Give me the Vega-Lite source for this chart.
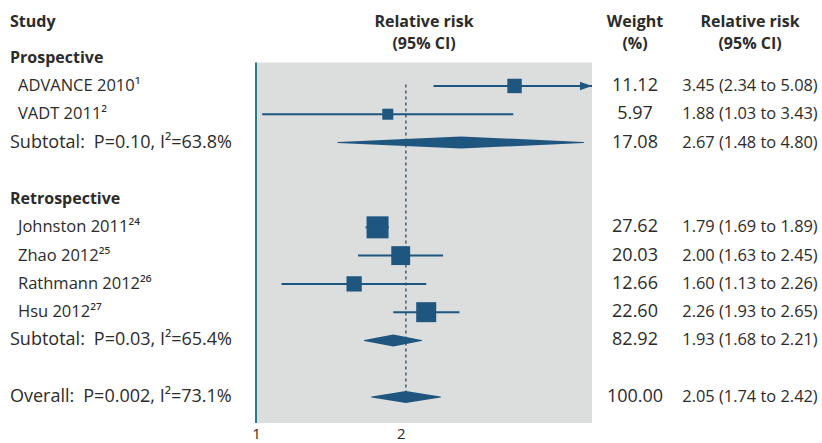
{
  "$schema": "https://vega.github.io/schema/vega-lite/v6.json",
  "padding": 0,
  "spacing": 0,
  "bounds": "flush",
  "background": "white",
  "config": {"font": "Open Sans", "view": {"stroke": null}, "text": {"fontSize": 17, "color": "#2b2b2b"}},
  "datasets": {
    "rows": [
      {"label": "Prospective", "row": 1, "kind": "group"},
      {"label": "ADVANCE 2010¹", "row": 2, "kind": "study", "rr": 3.45, "lo": 2.34, "hi": 5.08, "weight": 11.12, "ci": "3.45 (2.34 to 5.08)"},
      {"label": "VADT 2011²", "row": 3, "kind": "study", "rr": 1.88, "lo": 1.03, "hi": 3.43, "weight": 5.97, "ci": "1.88 (1.03 to 3.43)"},
      {"label": "Subtotal:\u2002P=0.10, I²=63.8%", "row": 4, "kind": "summary", "rr": 2.67, "lo": 1.48, "hi": 4.80, "weight": 17.08, "ci": "2.67 (1.48 to 4.80)"},
      {"label": "Retrospective", "row": 6, "kind": "group"},
      {"label": "Johnston 2011²⁴", "row": 7, "kind": "study", "rr": 1.79, "lo": 1.69, "hi": 1.89, "weight": 27.62, "ci": "1.79 (1.69 to 1.89)"},
      {"label": "Zhao 2012²⁵", "row": 8, "kind": "study", "rr": 2.00, "lo": 1.63, "hi": 2.45, "weight": 20.03, "ci": "2.00 (1.63 to 2.45)"},
      {"label": "Rathmann 2012²⁶", "row": 9, "kind": "study", "rr": 1.60, "lo": 1.13, "hi": 2.26, "weight": 12.66, "ci": "1.60 (1.13 to 2.26)"},
      {"label": "Hsu 2012²⁷", "row": 10, "kind": "study", "rr": 2.26, "lo": 1.93, "hi": 2.65, "weight": 22.60, "ci": "2.26 (1.93 to 2.65)"},
      {"label": "Subtotal:\u2002P=0.03, I²=65.4%", "row": 11, "kind": "summary", "rr": 1.93, "lo": 1.68, "hi": 2.21, "weight": 82.92, "ci": "1.93 (1.68 to 2.21)"},
      {"label": "Overall:\u2002P=0.002, I²=73.1%", "row": 13, "kind": "overall", "rr": 2.05, "lo": 1.74, "hi": 2.42, "weight": 100.00, "ci": "2.05 (1.74 to 2.42)"}
    ]
  },
  "hconcat": [
    {
      "width": 256, "height": 423,
      "data": {"name": "rows"},
      "encoding": {
        "y": {"field": "row", "type": "quantitative", "scale": {"domain": [-1.04, 13.92], "reverse": true, "nice": false, "zero": false}, "axis": null}
      },
      "layer": [
        {
          "transform": [{"filter": "datum.kind === 'overall'"}],
          "mark": {"type": "text", "text": "Study", "fontWeight": "bold", "align": "left", "x": 10, "fontSize": 16},
          "encoding": {"y": {"datum": -0.25, "type": "quantitative"}}
        },
        {
          "transform": [{"filter": "datum.kind === 'group'"}],
          "mark": {"type": "text", "fontWeight": "bold", "align": "left", "x": 10, "fontSize": 16},
          "encoding": {"text": {"field": "label"}}
        },
        {
          "transform": [{"filter": "datum.kind === 'study'"}],
          "mark": {"type": "text", "align": "left", "x": 18, "fontSize": 16.5},
          "encoding": {"text": {"field": "label"}}
        },
        {
          "transform": [{"filter": "datum.kind === 'summary' || datum.kind === 'overall'"}],
          "mark": {"type": "text", "align": "left", "x": 10, "fontSize": 18},
          "encoding": {"text": {"field": "label"}}
        }
      ]
    },
    {
      "width": 336, "height": 423,
      "data": {"name": "rows"},
      "encoding": {
        "y": {"field": "row", "type": "quantitative", "scale": {"domain": [-1.04, 13.92], "reverse": true, "nice": false, "zero": false}, "axis": null}
      },
      "layer": [
        {
          "transform": [{"filter": "datum.kind === 'overall'"}],
          "mark": {"type": "rect", "color": "#dcdddd"},
          "encoding": {
            "x": {"datum": 1, "type": "quantitative", "scale": {"type": "log", "domain": [1, 5], "nice": false}, "axis": {"values": [1, 2], "format": "d", "title": null, "domain": false, "ticks": false, "grid": false, "labelFontSize": 15, "labelColor": "#2b2b2b", "labelPadding": 3, "labelFlush": false, "labelFont": "Open Sans"}},
            "x2": {"datum": 5},
            "y": {"datum": 1.17, "type": "quantitative"},
            "y2": {"datum": 13.92}
          }
        },
        {
          "transform": [{"filter": "datum.kind === 'overall'"}],
          "mark": {"type": "rule", "color": "#2a7a86", "strokeWidth": 2},
          "encoding": {
            "x": {"datum": 1, "type": "quantitative"},
            "y": {"datum": 1.17, "type": "quantitative"},
            "y2": {"datum": 13.92}
          }
        },
        {
          "transform": [{"filter": "datum.kind === 'overall'"}],
          "mark": {"type": "rule", "color": "#3d5c78", "strokeWidth": 1.5, "strokeDash": [3, 3]},
          "encoding": {
            "x": {"field": "rr", "type": "quantitative"},
            "y": {"datum": 1.95, "type": "quantitative"},
            "y2": {"datum": 12.8}
          }
        },
        {
          "transform": [{"filter": "datum.kind === 'study'"}],
          "mark": {"type": "rule", "color": "#1f5680", "strokeWidth": 2, "clip": true},
          "encoding": {
            "x": {"field": "lo", "type": "quantitative"},
            "x2": {"field": "hi"}
          }
        },
        {
          "transform": [{"filter": "datum.kind === 'study' && datum.hi > 5"}],
          "mark": {"type": "point", "shape": "M0,0L-2,-0.7L-2,0.7Z", "filled": true, "opacity": 1, "color": "#1f5680", "size": 144},
          "encoding": {
            "x": {"datum": 5, "type": "quantitative"}
          }
        },
        {
          "transform": [{"filter": "datum.kind === 'study'"}],
          "mark": {"type": "point", "shape": "square", "filled": true, "opacity": 1, "color": "#1f5680"},
          "encoding": {
            "x": {"field": "rr", "type": "quantitative"},
            "size": {"field": "weight", "type": "quantitative", "scale": {"domain": [5.97, 27.62], "range": [121, 484], "zero": false}, "legend": null}
          }
        },
        {
          "transform": [
            {"filter": "datum.kind === 'summary' || datum.kind === 'overall'"},
            {"fold": ["lo", "rr", "hi"], "as": ["part", "val"]}
          ],
          "mark": {"type": "trail", "color": "#1f5680"},
          "encoding": {
            "x": {"field": "val", "type": "quantitative"},
            "detail": {"field": "row"},
            "size": {"condition": {"test": "datum.part === 'rr'", "value": 12}, "value": 0}
          }
        },
        {
          "transform": [{"filter": "datum.kind === 'overall'"}],
          "mark": {"type": "text", "text": ["Relative risk", "(95% CI)"], "fontWeight": "bold", "lineHeight": 22, "fontSize": 16},
          "encoding": {"y": {"datum": -0.25, "type": "quantitative"}}
        }
      ]
    },
    {
      "width": 86, "height": 423,
      "data": {"name": "rows"},
      "encoding": {
        "y": {"field": "row", "type": "quantitative", "scale": {"domain": [-1.04, 13.92], "reverse": true, "nice": false, "zero": false}, "axis": null}
      },
      "layer": [
        {
          "transform": [{"filter": "datum.kind === 'overall'"}],
          "mark": {"type": "text", "text": ["Weight", "(%)"], "fontWeight": "bold", "lineHeight": 22, "fontSize": 16},
          "encoding": {"y": {"datum": -0.25, "type": "quantitative"}}
        },
        {
          "transform": [{"filter": "datum.kind !== 'group'"}],
          "mark": {"type": "text", "fontSize": 18},
          "encoding": {"text": {"field": "weight", "type": "quantitative", "format": ".2f"}}
        }
      ]
    },
    {
      "width": 144, "height": 423,
      "data": {"name": "rows"},
      "encoding": {
        "y": {"field": "row", "type": "quantitative", "scale": {"domain": [-1.04, 13.92], "reverse": true, "nice": false, "zero": false}, "axis": null}
      },
      "layer": [
        {
          "transform": [{"filter": "datum.kind === 'overall'"}],
          "mark": {"type": "text", "text": ["Relative risk", "(95% CI)"], "fontWeight": "bold", "lineHeight": 22, "fontSize": 16},
          "encoding": {"y": {"datum": -0.25, "type": "quantitative"}}
        },
        {
          "transform": [{"filter": "datum.kind !== 'group'"}],
          "mark": {"type": "text", "fontSize": 16.4},
          "encoding": {"text": {"field": "ci"}}
        }
      ]
    }
  ]
}
